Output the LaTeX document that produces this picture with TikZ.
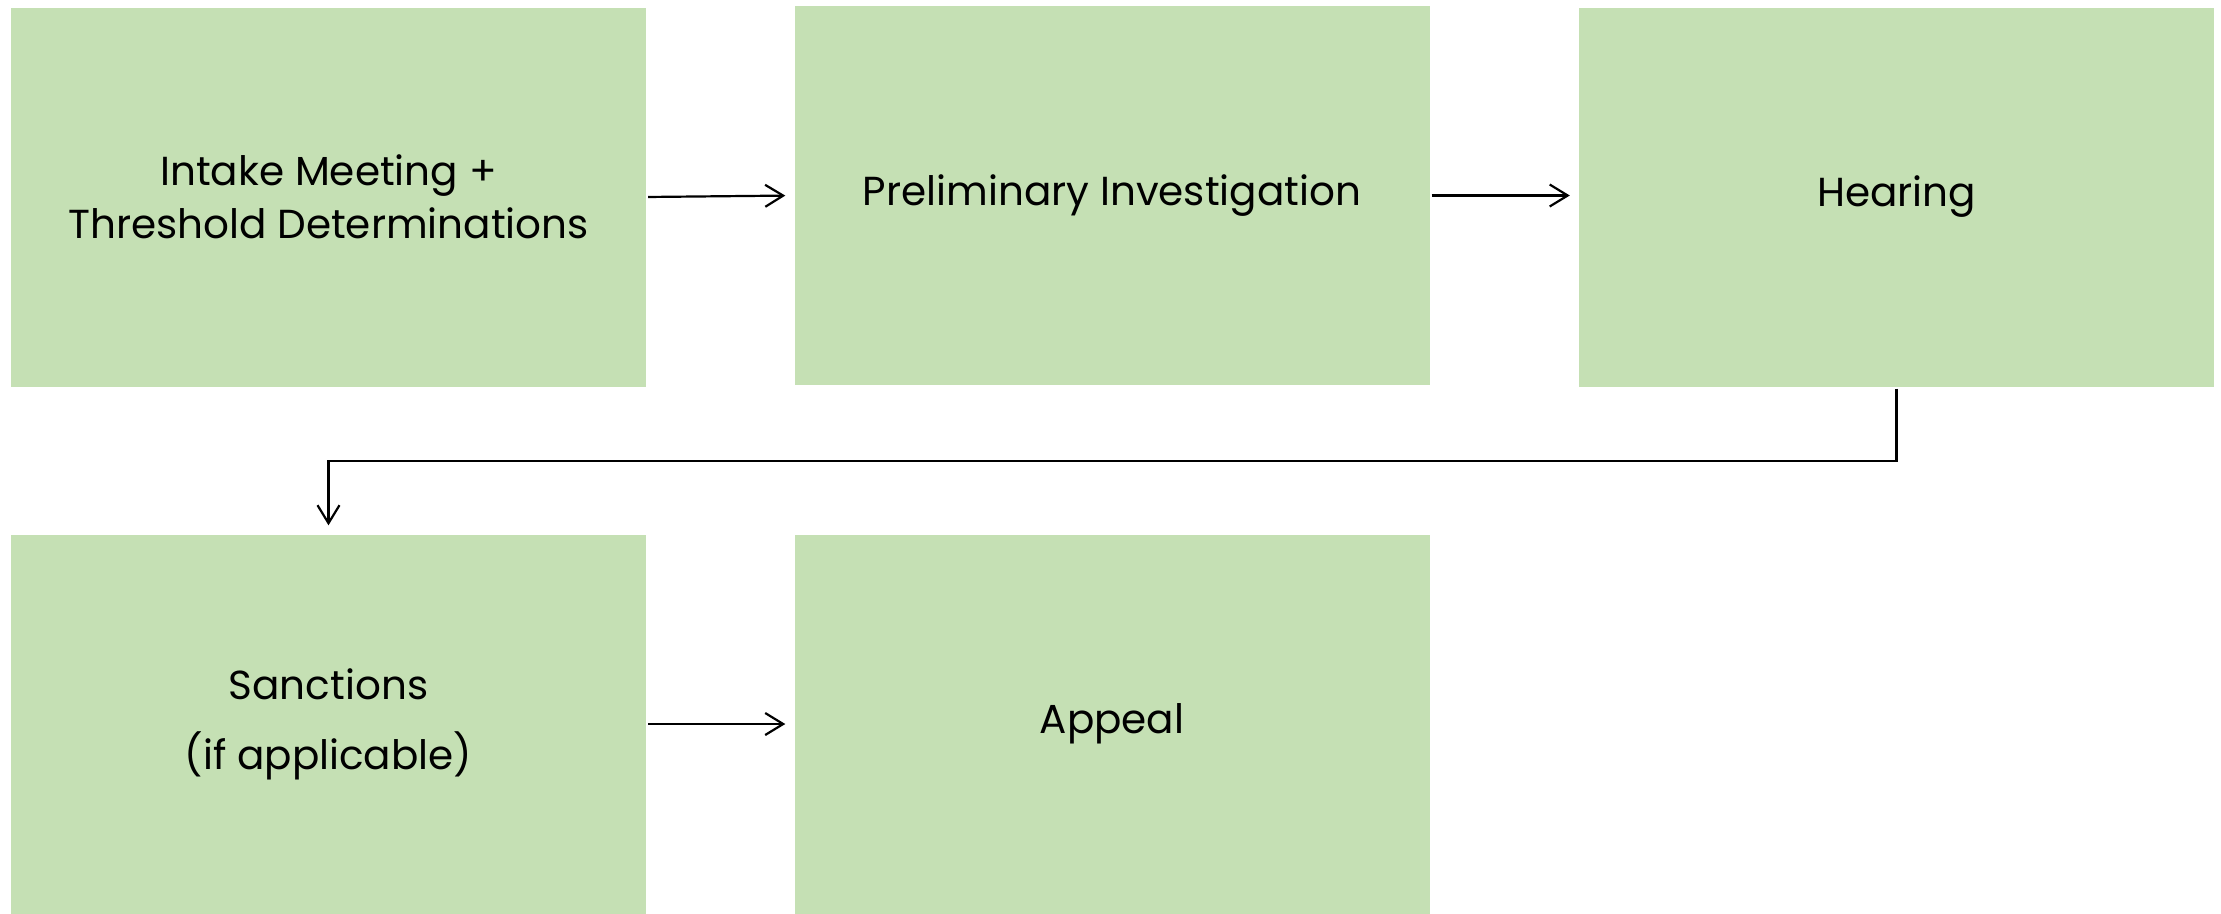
\documentclass[tikz,border=0pt]{standalone}
\usepackage{fontspec}
\setmainfont{Poppins}
\usetikzlibrary{arrows.meta}
\definecolor{boxgreen}{HTML}{C5E0B4}
\begin{document}
\begin{tikzpicture}[x=1pt,y=-1pt,
  stage/.style={fill=boxgreen,draw=none,inner sep=0pt,minimum width=635pt,minimum height=379pt,align=center,font=\fontsize{40.5}{53}\selectfont},
  flow/.style={draw=black,line width=2.2pt,-{Straight Barb[length=18pt,width=22pt,line width=2.2pt]},shorten <=2pt,shorten >=9pt}]
\useasboundingbox (0,0) rectangle (2221,913);
\node[stage] (intake) at (328.5,197) {Intake Meeting +\\Threshold Determinations};
\node[stage] (prelim) at (1112,195.5) {Preliminary Investigation};
\node[stage] (hearing) at (1896.5,197) {Hearing};
\node[stage] (sanctions) at (328.5,724) {Sanctions\\[17pt](if applicable)};
\node[stage] (appeal) at (1112,724) {Appeal};
\draw[flow] (intake.east) -- (prelim.west);
\draw[flow] (prelim.east) -- (prelim.east -| hearing.west);
\coordinate (bend) at (1896.5,461);
\draw[flow] (hearing.south) -- (bend) -| (sanctions.north);
\draw[flow] (sanctions.east) -- (appeal.west);
\end{tikzpicture}
\end{document}
